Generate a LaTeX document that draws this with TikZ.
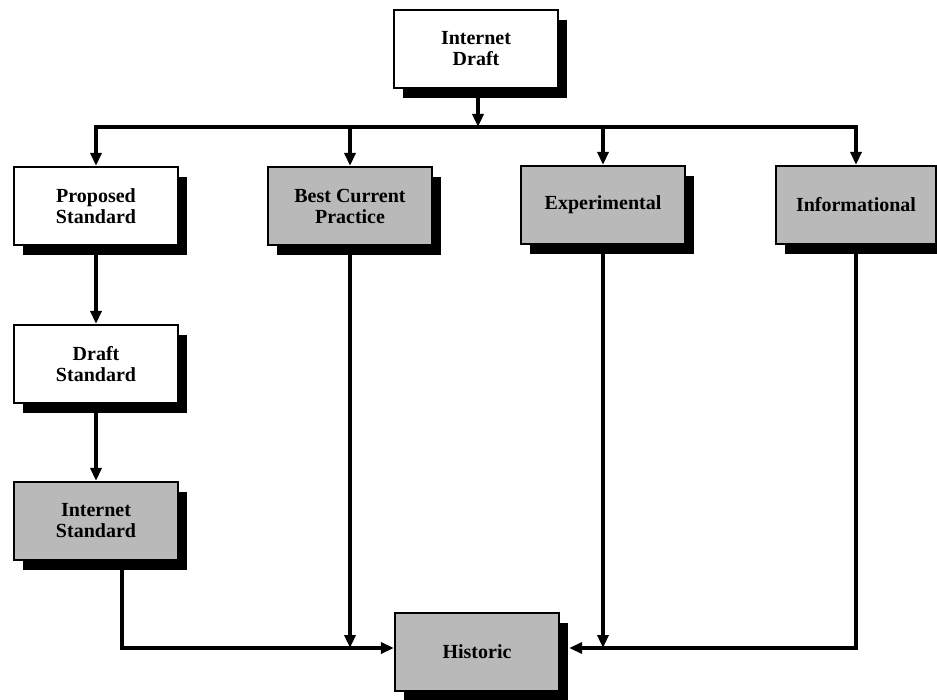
\documentclass[tikz,border=0pt]{standalone}
\usepackage{fontspec}
\setmainfont{Liberation Serif}
\usetikzlibrary{arrows.meta,shadows,calc}
\definecolor{boxgray}{RGB}{185,185,185}
\tikzset{
  card/.style={draw=black, line width=2.2pt, minimum width=164pt, minimum height=78pt,
    align=center, inner sep=2pt, font=\fontsize{20}{21}\selectfont\bfseries,
    drop shadow={shadow xshift=9pt, shadow yshift=-10pt, fill=black, opacity=1}},
  whitecard/.style={card, fill=white},
  graycard/.style={card, fill=boxgray},
  conn/.style={line width=3.4pt, line cap=rect},
  arr/.style={conn, -{Triangle[length=13pt,width=11pt]}}
}
\begin{document}
\begin{tikzpicture}[x=1pt,y=-1pt]
\useasboundingbox (0,0) rectangle (937,700);
\node[whitecard] (id) at (476,49) {Internet\\Draft};
\node[whitecard] (ps) at (96,206) {Proposed\\Standard};
\node[whitecard] (ds) at (96,364) {Draft\\Standard};
\node[graycard] (is) at (96,521) {Internet\\Standard};
\node[graycard] (bcp) at (350,206) {Best Current\\Practice};
\node[graycard] (exp) at (603,205) {Experimental};
\node[graycard, minimum width=160pt] (info) at (856,205) {Informational};
\node[graycard] (hist) at (477,652) {Historic};
\coordinate (bus) at (476,127);
\coordinate (hl) at ([yshift=4pt]hist.west);
\coordinate (hr) at ([xshift=9pt,yshift=4pt]hist.east);
% bus from Internet Draft
\draw[arr] ([xshift=2pt,yshift=-10pt]id.south) -- ([xshift=2pt]id.south |- bus);
\draw[conn] (ps.north |- bus) -- (info.north |- bus);
\draw[arr] (ps.north |- bus) -- (ps.north);
\draw[arr] (bcp.north |- bus) -- (bcp.north);
\draw[arr] (exp.north |- bus) -- (exp.north);
\draw[arr] (info.north |- bus) -- (info.north);
% standards track
\draw[arr] ([yshift=-10pt]ps.south) -- (ds.north);
\draw[arr] ([yshift=-10pt]ds.south) -- (is.north);
% to Historic
\draw[arr] ([xshift=26pt,yshift=-10pt]is.south) |- (hl);
\draw[arr] ([yshift=-10pt]bcp.south) -- (bcp.south |- hl);
\draw[arr] ([yshift=-10pt]exp.south) -- (exp.south |- hl);
\draw[arr] ([yshift=-10pt]info.south) |- (hr);
\end{tikzpicture}
\end{document}
